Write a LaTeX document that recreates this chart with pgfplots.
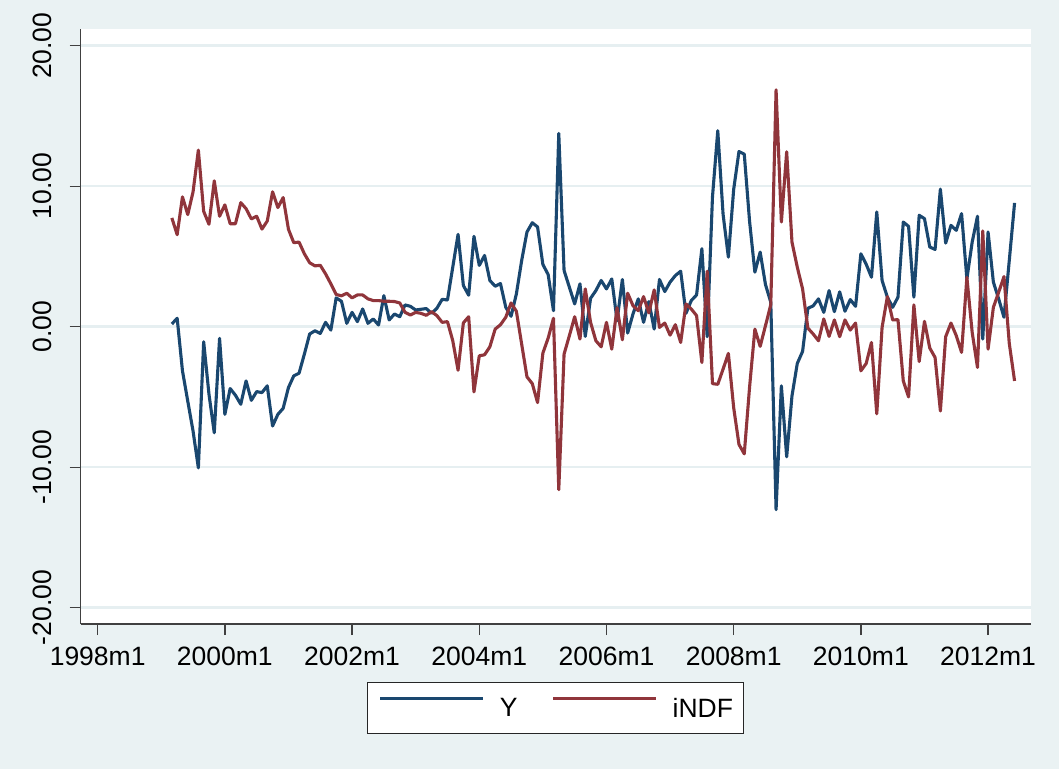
\documentclass[border=0pt]{standalone}
\usepackage{fontspec}
\setmainfont{Liberation Sans}
\usepackage{pgfplots}
\pgfplotsset{compat=1.18}
\usepackage{pgfplotstable}
\definecolor{bgc}{HTML}{EAF2F3}
\definecolor{gridc}{HTML}{E6EFF1}
\definecolor{ynavy}{HTML}{1A476F}
\definecolor{imaroon}{HTML}{90353B}

\pgfplotstableread{
m y indf
14 0.19 7.74
15 0.6 6.55
16 -3.14 9.24
17 -5.3 7.98
18 -7.43 9.6
19 -10.05 12.57
20 -1.07 8.21
21 -4.8 7.29
22 -7.55 10.38
23 -0.83 7.86
24 -6.24 8.67
25 -4.4 7.33
26 -4.88 7.33
27 -5.52 8.83
28 -3.86 8.4
29 -5.24 7.67
30 -4.62 7.86
31 -4.69 6.95
32 -4.21 7.52
33 -7.07 9.6
34 -6.24 8.48
35 -5.81 9.19
36 -4.33 6.93
37 -3.5 5.98
38 -3.31 6.02
39 -1.95 5.19
40 -0.52 4.55
41 -0.29 4.33
42 -0.48 4.37
43 0.31 3.76
44 -0.24 3.05
45 2.05 2.29
46 1.81 2.2
47 0.24 2.38
48 1.02 2.05
49 0.36 2.26
50 1.26 2.26
51 0.24 1.98
52 0.55 1.86
53 0.12 1.86
54 2.21 1.81
55 0.48 1.81
56 0.9 1.79
57 0.71 1.69
58 1.55 1.02
59 1.45 0.83
60 1.19 1.02
61 1.24 0.95
62 1.29 0.81
63 0.95 1.07
64 1.31 0.79
65 1.95 0.31
66 1.9 0.36
67 4.24 -1.0
68 6.57 -3.1
69 2.93 0.27
70 2.24 0.71
71 6.43 -4.64
72 4.36 -2.07
73 5.07 -2.0
74 3.29 -1.43
75 2.88 -0.17
76 3.07 0.14
77 1.38 0.67
78 0.74 1.69
79 2.33 1.1
80 4.71 -1.24
81 6.74 -3.57
82 7.4 -4.05
83 7.1 -5.4
84 4.43 -1.88
85 3.71 -0.81
86 1.14 0.6
87 13.76 -11.6
88 4.0 -1.95
89 2.81 -0.64
90 1.62 0.71
91 3.05 -0.88
92 -0.69 2.69
93 2.02 0.31
94 2.57 -1.0
95 3.29 -1.43
96 2.69 0.31
97 3.4 -1.6
98 0.43 1.35
99 3.36 -0.93
100 -0.45 2.38
101 0.9 1.5
102 1.98 1.14
103 0.31 2.14
104 1.79 0.98
105 -0.17 2.62
106 3.36 -0.05
107 2.5 0.26
108 3.17 -0.6
109 3.64 0.14
110 3.95 -1.12
111 0.95 1.62
112 1.86 1.26
113 2.26 0.79
114 5.55 -2.55
115 -0.71 3.95
116 9.24 -4.05
117 13.95 -4.1
118 8.0 -3.02
119 4.95 -1.9
120 9.77 -5.76
121 12.47 -8.38
122 12.28 -9.05
123 7.5 -4.3
124 3.88 -0.17
125 5.31 -1.4
126 3.0 0.07
127 1.74 1.57
128 -13.02 16.86
129 -4.21 7.45
130 -9.26 12.45
131 -4.93 6.02
132 -2.62 4.24
133 -1.76 2.69
134 1.31 -0.1
135 1.48 -0.52
136 1.98 -1.0
137 1.02 0.55
138 2.57 -0.69
139 1.07 0.48
140 2.48 -0.71
141 1.1 0.48
142 1.93 -0.24
143 1.45 0.26
144 5.19 -3.14
145 4.45 -2.62
146 3.52 -1.12
147 8.17 -6.2
148 3.29 -0.05
149 2.1 2.14
150 1.38 0.48
151 2.1 0.5
152 7.45 -3.86
153 7.14 -5.0
154 2.1 1.55
155 7.93 -2.48
156 7.69 0.38
157 5.67 -1.52
158 5.5 -2.19
159 9.79 -6.0
160 5.95 -0.71
161 7.21 0.26
162 6.86 -0.64
163 8.05 -1.83
164 3.4 3.52
165 6.02 -0.4
166 7.86 -2.9
167 -0.88 6.81
168 6.74 -1.6
169 3.17 1.38
170 1.98 2.45
171 0.67 3.57
172 4.71 -1.19
173 8.81 -3.86
}\datatable

\begin{document}
\begin{tikzpicture}
\fill[bgc] (0,0) rectangle (1059pt,769pt);
\begin{axis}[
  at={(80.7pt,145pt)}, anchor=south west,
  scale only axis, width=950.3pt, height=594.6pt,
  xmin=-3.2, xmax=176.1, ymin=-21.16, ymax=21.16,
  axis background/.style={fill=white},
  axis x line*=bottom, axis y line*=left,
  axis line style={-, draw=black!75, line width=1.3pt},
  tick align=outside, major tick length=11pt,
  tick style={draw=black!75, line width=1.3pt},
  xtick={0,24,...,168},
  xticklabels={1998m1,2000m1,2002m1,2004m1,2006m1,2008m1,2010m1,2012m1},
  ytick={-20,-10,0,10,20},
  yticklabels={-20.00,-10.00,0.00,10.00,20.00},
  minor tick num=0,
  ticklabel style={font=\fontsize{26.5}{30}\selectfont},
  xticklabel style={anchor=north, inner sep=0pt, yshift=-11.7pt},
  yticklabel style={rotate=90, anchor=south, inner sep=0pt, yshift=18pt},
  ymajorgrids, major grid style={draw=gridc, line width=2.5pt},
  legend columns=2,
  legend cell align=left,
  legend image code/.code={\draw[#1] (0pt,9.6pt) -- (103pt,9.6pt);},
  legend style={at={(0.5,-0.1413)}, anchor=center, draw=black!85, line width=1pt,
    fill=white, font=\fontsize{26.5}{30}\selectfont,
    inner xsep=11pt, inner ysep=14.5pt, column sep=15pt,
    /tikz/every even column/.append style={column sep=34pt},
    nodes={inner sep=0pt}},
]
\addplot[ynavy, line width=3.1pt, line join=round] table[x=m,y=y]{\datatable};
\addlegendentry{Y}
\addplot[imaroon, line width=3.1pt, line join=round] table[x=m,y=indf]{\datatable};
\addlegendentry{iNDF}
\end{axis}
\pgfresetboundingbox
\path[use as bounding box] (0,0) rectangle (1059pt,769pt);
\end{tikzpicture}
\end{document}
